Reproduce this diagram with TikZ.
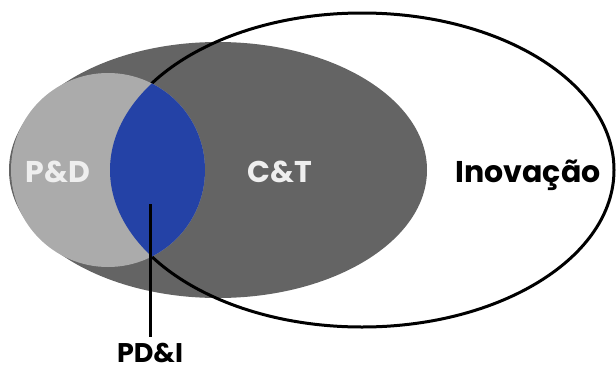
\documentclass[tikz,border=0pt]{standalone}
\usepackage{fontspec}
\setmainfont{Poppins}
\usetikzlibrary{positioning}
\definecolor{ctgray}{HTML}{646464}
\definecolor{pdgray}{HTML}{ABABAB}
\definecolor{pdiblue}{HTML}{2442A6}
\definecolor{softwhite}{HTML}{EEEEEE}
\pgfdeclarelayer{background}
\pgfdeclarelayer{foreground}
\pgfsetlayers{background,main,foreground}

\begin{document}
\begin{tikzpicture}[x=1pt, y=-1pt,
	setlabel/.style={font=\fontsize{30}{33}\selectfont\bfseries, inner sep=0pt, anchor=base, text depth=0pt},
	pointer/.style={line width=3pt},
	]
	\useasboundingbox (0,0) rectangle (616,367);
	%Nodes
	\node[setlabel, text=softwhite] (lpd)  at (58,182)  {P\&D};
	\node[setlabel, text=softwhite] (lct)  at (280,182) {C\&T};
	\node[setlabel, text=black]     (linv) at (528,182) {Inovação};
	\node[setlabel, text=black, font=\fontsize{27}{30}\selectfont\bfseries, text height=25pt] (lpdi) at (150,362) {PD\&I};
	\coordinate (pdi) at (150,204);

	\begin{pgfonlayer}{background}
	%Sets
	\fill[ctgray] (218,170) ellipse [x radius=209, y radius=128];
	\draw[pointer] (362,170) ellipse [x radius=252, y radius=157];
	\fill[pdgray] (108,170) circle [radius=97];
	\begin{scope}
		\clip (362,170) ellipse [x radius=252, y radius=157];
		\fill[pdiblue] (108,170) circle [radius=97];
	\end{scope}
	\end{pgfonlayer}

	%Lines
	\draw[pointer] (pdi) -- (lpdi.north);
\end{tikzpicture}
\end{document}
